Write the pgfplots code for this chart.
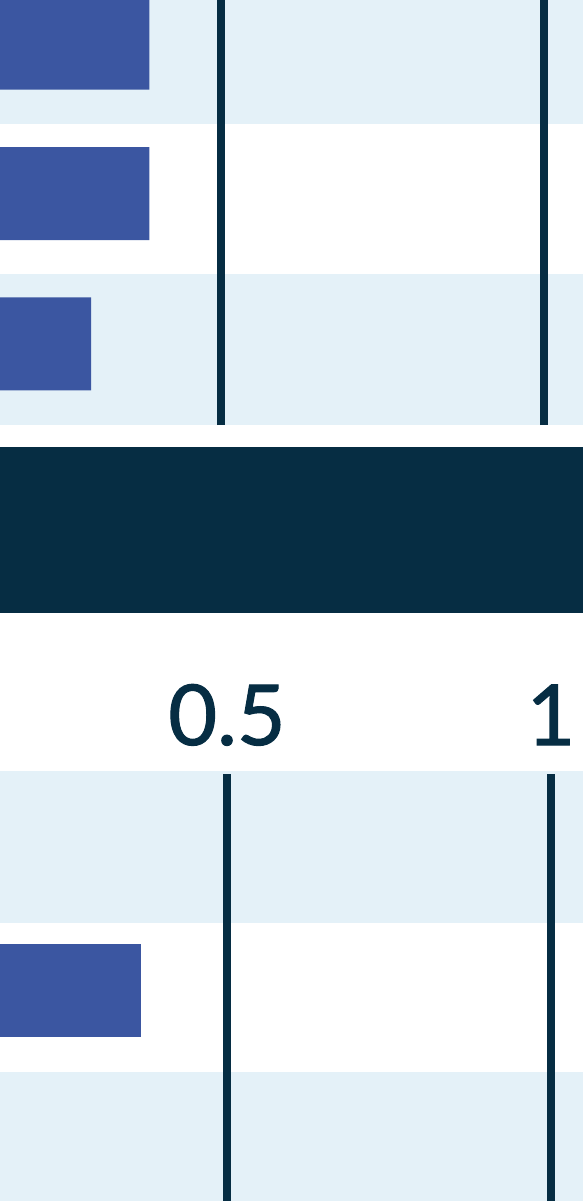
\documentclass[border=0pt]{standalone}
\usepackage{fontspec}
\setmainfont{Lato}
\newfontfamily\tickfont{Lato}[FakeBold=1.3]
\usepackage{pgfplots}
\pgfplotsset{compat=1.18}
\definecolor{navy}{RGB}{6,45,67}
\definecolor{stripe}{RGB}{228,241,248}
\definecolor{barblue}{RGB}{59,86,161}
\pgfplotsset{panel/.style={
  scale only axis, width=583pt,
  axis line style={draw=none}, tick style={draw=none}, major tick length=0pt,
  xmajorgrids, grid style={navy, line width=8pt},
  ytick=\empty, xtick={0.5,1},
  xbar, bar width=93pt, bar shift=6pt,
}}
\begin{document}
\begin{tikzpicture}
\useasboundingbox (0pt,0pt) rectangle (583pt,-1201pt);
\clip (0pt,0pt) rectangle (583pt,-1201pt);
% row stripes and panel header band
\fill[stripe] (0pt,26pt) rectangle (583pt,-124pt);
\fill[stripe] (0pt,-274pt) rectangle (583pt,-425pt);
\fill[navy] (0pt,-447pt) rectangle (583pt,-613pt);
\fill[stripe] (0pt,-771pt) rectangle (583pt,-923pt);
\fill[stripe] (0pt,-1072pt) rectangle (583pt,-1240pt);
% top panel
\begin{axis}[panel, at={(0pt,-425pt)}, anchor=south west, height=451pt,
  ymin=0.5, ymax=3.5, xmin=0.15789, xmax=1.06037, xticklabels={}]
\addplot[fill=barblue, draw=none] coordinates {(0.389,3) (0.389,2) (0.299,1)};
\end{axis}
% bottom panel
\begin{axis}[panel, at={(0pt,-1223pt)}, anchor=south west, height=449pt,
  ymin=0.5, ymax=3.4735, xmin=0.14969, xmax=1.04938,
  xticklabel pos=upper, xticklabels={0.5,1},
  xticklabel style={font=\tickfont\fontsize{84}{90}\selectfont, text=navy, anchor=base, inner sep=0pt, yshift=29pt}]
\addplot[fill=barblue, draw=none] coordinates {(0.367,2)};
\end{axis}
\end{tikzpicture}
\end{document}
